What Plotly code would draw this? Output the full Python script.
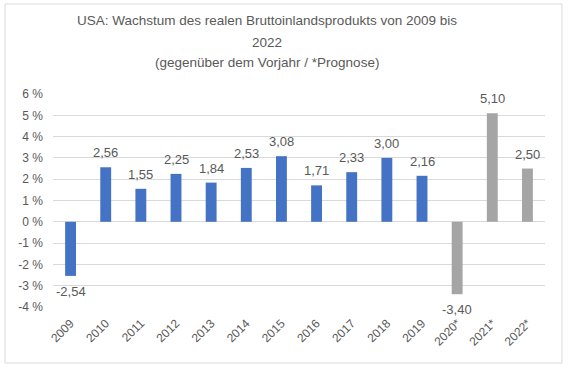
import plotly.graph_objects as go

categories = ["2009", "2010", "2011", "2012", "2013", "2014", "2015", "2016",
              "2017", "2018", "2019", "2020*", "2021*", "2022*"]
values = [-2.54, 2.56, 1.55, 2.25, 1.84, 2.53, 3.08, 1.71, 2.33, 3.00, 2.16,
          -3.40, 5.10, 2.50]
is_forecast = [False] * 11 + [True] * 3
tick_vals = [-4, -3, -2, -1, 0, 1, 2, 3, 4, 5, 6]
tick_text = ["-4 %", "-3 %", "-2 %", "-1 %", "0 %", "1 %", "2 %", "3 %", "4 %", "5 %", "6 %"]
title_lines = ["USA: Wachstum des realen Bruttoinlandsprodukts von 2009 bis",
               "2022",
               "(gegenüber dem Vorjahr / *Prognose)"]

BLUE = "#4472C4"
GRAY = "#A5A5A5"
TXT = "#595959"
FONT = "Liberation Sans"

colors = [GRAY if f else BLUE for f in is_forecast]
labels = [f"{v:.2f}".replace(".", ",") for v in values]

fig = go.Figure(go.Bar(
    x=categories, y=values, marker_color=colors, marker_line_width=0,
    hoverinfo="x+y",
))

W, H = 568, 368
L, R, T, B = 53, 23, 94, 61
PW, PH = W - L - R, H - T - B


def px_x(x):
    return (x - L) / PW


def px_y(y):
    return (H - B - y) / PH


title_y = [20, 42, 63]
annotations = [dict(text=t, xref="paper", yref="paper", x=px_x(267), y=px_y(yy),
                    xanchor="center", yanchor="middle", showarrow=False,
                    font=dict(family=FONT, size=13.5, color=TXT))
               for t, yy in zip(title_lines, title_y)]

for i, (v, lab) in enumerate(zip(values, labels)):
    annotations.append(dict(
        text=lab, x=i, y=v, xref="x", yref="y", showarrow=False,
        xanchor="center", yanchor="bottom" if v >= 0 else "top",
        yshift=5 if v >= 0 else -6,
        font=dict(family=FONT, size=13, color=TXT)))

fig.update_layout(
    width=W, height=H,
    margin=dict(l=L, r=R, t=T, b=B),
    paper_bgcolor="white", plot_bgcolor="white",
    bargap=0.69,
    showlegend=False,
    font=dict(family=FONT, color=TXT),
    annotations=annotations,
    shapes=[dict(type="rect", xref="paper", yref="paper",
                 x0=px_x(5), x1=px_x(562), y0=px_y(363), y1=px_y(4),
                 line=dict(color="#D9D9D9", width=1), layer="below")],
)
fig.update_xaxes(type="category", categoryorder="array", categoryarray=categories,
                 range=[-0.5, len(categories) - 0.5],
                 tickangle=-45, tickfont=dict(family=FONT, size=12, color=TXT),
                 showline=False, ticks="", automargin=False, ticklabelstandoff=6)
fig.update_yaxes(range=[-4, 6], tickvals=tick_vals, ticktext=tick_text,
                 tickfont=dict(family=FONT, size=12, color=TXT),
                 showgrid=True, gridcolor="#D9D9D9", gridwidth=1,
                 zeroline=True, zerolinecolor="#D9D9D9", zerolinewidth=1,
                 ticks="", ticklen=0, showline=False, automargin=False,
                 ticklabelstandoff=9)
fig.write_html("out.html", config={"displayModeBar": False},
               post_script="document.body.style.margin='0';")
